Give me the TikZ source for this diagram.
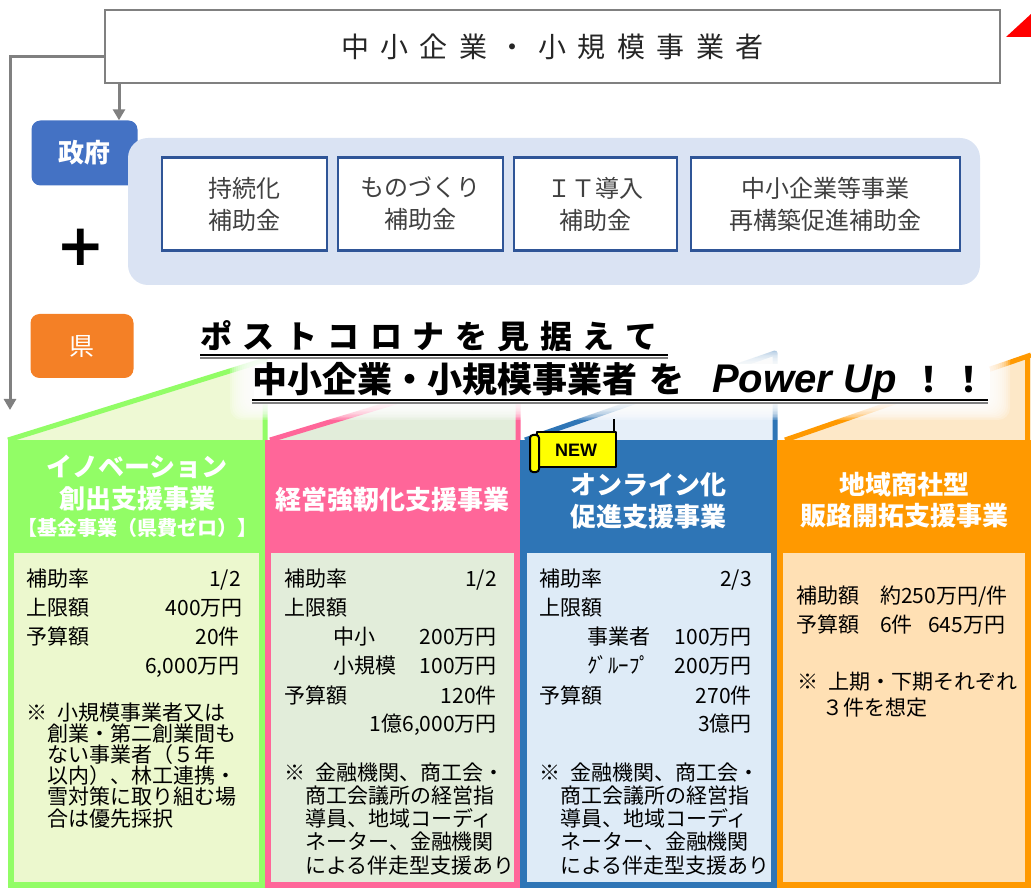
\documentclass[tikz,border=0pt]{standalone}
\usepackage{fontspec}
\setmainfont{Noto Sans CJK JP}
\newfontfamily\latinfont{Liberation Sans}
\newfontfamily\plusfont{DejaVu Sans}
\usetikzlibrary{arrows.meta}

\definecolor{linegray}{RGB}{128,128,128}
\definecolor{darktext}{RGB}{64,64,64}
\definecolor{govblue}{RGB}{68,114,196}
\definecolor{kenorange}{RGB}{244,128,38}
\definecolor{panelblue}{RGB}{218,227,243}
\definecolor{boxblue}{RGB}{47,85,151}
\definecolor{greenhead}{RGB}{146,253,102}
\definecolor{greenbody}{RGB}{236,248,206}
\definecolor{greenwedge}{RGB}{238,249,212}
\definecolor{pinkhead}{RGB}{255,102,153}
\definecolor{pinkbody}{RGB}{226,237,218}
\definecolor{bluehead}{RGB}{46,117,182}
\definecolor{bluebody}{RGB}{222,235,247}
\definecolor{bluewedge}{RGB}{230,239,249}
\definecolor{orangehead}{RGB}{255,153,0}
\definecolor{orangebody}{RGB}{255,224,180}
\definecolor{orangewedge}{RGB}{253,232,200}
\definecolor{newyellow}{RGB}{255,255,0}

% spread the letters of a word
\newcommand\spreadtext[2]{\def\spreadgap{#1}\spreadloop#2\relax}
\def\spreadloop#1{\ifx#1\relax\else#1\hspace{\spreadgap}\expandafter\spreadloop\fi}

\begin{document}
\begin{tikzpicture}[x=1pt, y=-1pt, inner sep=0pt,
    conn/.style={draw=linegray, line width=3pt, -{Triangle[length=11pt,width=12pt]}},
    subsidy/.style={draw=boxblue, line width=2.5pt, fill=white, minimum height=93pt,
      align=center, text=darktext, font=\fontsize{24}{32}\selectfont},
    badge/.style={rounded corners=9pt, text=white, minimum width=106pt, minimum height=65pt},
    headtext/.style={text=white, font=\fontsize{26}{26}\selectfont\bfseries},
    bodyl/.style={anchor=base west, font=\fontsize{21}{21}\selectfont},
    bodyr/.style={anchor=base east, font=\fontsize{21}{21}\selectfont},
    wedgeline/.style={line width=5pt, line join=round},
    uline/.style={line width=2pt}]
\useasboundingbox (0,0) rectangle (1031,890);

% Top box and the flow on the left
\node[draw=linegray, line width=2pt, fill=white, minimum width=895pt, minimum height=73pt,
  text=black!85, font=\fontsize{28}{28}\selectfont] (top) at (552.5,46.5)
  {\spreadtext{11.5pt}{中小企業・小規模事業者}};
\fill[red] (1006,37) -- (1031,37) -- (1031,14) -- cycle;

\node[badge, fill=govblue, font=\fontsize{26}{26}\selectfont\bfseries] (gov) at (84.5,153) {政府};
\node[badge, fill=kenorange, minimum width=103pt, minimum height=64pt,
  font=\fontsize{25}{25}\selectfont] (ken) at (82,346) {県};
\coordinate (leftend) at (10,410);

\draw[conn] ([xshift=15pt]top.south west) -- ([xshift=15pt]top.south west |- gov.north);
\draw[conn] ([yshift=-10.5pt]top.west) -| (leftend);

% Government subsidies
\node[fill=panelblue, rounded corners=20pt, minimum width=852pt, minimum height=147pt] (panel) at (554,211.5) {};
\node[subsidy, minimum width=165pt] (jizoku) at (244.5,204) {持続化\\補助金};
\node[subsidy, minimum width=165pt] (monozukuri) at (420.5,204) {ものづくり\\補助金};
\node[subsidy, minimum width=163pt] (itdonyu) at (595.5,204) {ＩＴ導入\\補助金};
\node[subsidy, minimum width=269pt] (saikochiku) at (825.5,204) {中小企業等事業\\再構築促進補助金};
\node[font=\plusfont\fontsize{58}{58}\selectfont\bfseries] (plus) at (81,247) {+};

% Wedges above the four columns
\fill[greenwedge] (8,440) -- (265,360) -- (265,440) -- cycle;
\draw[greenhead, wedgeline] (8,440) -- (265,360) -- (265,440);
\fill[pinkbody] (270,440) -- (518,365) -- (518,440) -- cycle;
\draw[pinkhead, wedgeline] (270,440) -- (518,365) -- (518,440);
\fill[bluewedge] (525,440) -- (775,353) -- (775,440) -- cycle;
\draw[bluehead, wedgeline] (525,440) -- (775,353) -- (775,440);
\fill[orangewedge] (785,440) -- (1031,355) -- (1031,440) -- cycle;
\draw[orangehead, wedgeline] (785,440) -- (1031,355);
\draw[orangehead, wedgeline] (1027,357) -- (1027,440);

% White glow behind the slogan
\foreach \g in {0,...,11}
  \fill[white, opacity=0.22, rounded corners=12pt] (230+\g*2,346+\g*1.5) rectangle (1010-\g*2,420-\g*1.5);
\fill[white, rounded corners=6pt] (254,364) rectangle (990,402);

% Four columns
\fill[greenhead] (8,440) rectangle (265,888);
\fill[greenbody] (14,553) rectangle (259,882);
\fill[pinkhead] (265,440) rectangle (520,888);
\fill[pinkbody] (271,553) rectangle (514,882);
\fill[bluehead] (520,440) rectangle (777,888);
\fill[bluebody] (527,553) rectangle (771,882);
\fill[orangehead] (777,440) rectangle (1031,888);
\fill[orangebody] (783,553) rectangle (1025,882);

% Slogan
\node[anchor=base west, font=\fontsize{32}{32}\selectfont\bfseries] (slogan1) at (200,349)
  {\spreadtext{10.5pt}{ポストコロナを見据えて}};
\draw[uline, black] (200,355) -- (668,355);
\draw[uline, linegray] (200,358) -- (668,358);
\node[anchor=base west, font=\fontsize{35}{35}\selectfont\bfseries] (slogan2) at (252,393) {中小企業・小規模事業者};
\node[anchor=base west, font=\fontsize{35}{35}\selectfont\bfseries] (slogan3) at (649,393) {を};
\node[anchor=base west, font=\latinfont\fontsize{40}{40}\selectfont\bfseries\itshape] (slogan4) at (712,393) {Power Up};
\node[anchor=base west, font=\fontsize{35}{35}\selectfont\bfseries] (slogan5) at (911,393) {！\hspace{5pt}！};
\draw[uline, black] (252,400) -- (988,400);
\draw[uline, linegray] (252,403) -- (988,403);

% Column heads
\node[headtext] (ghead1) at (137,467) {イノベーション};
\node[headtext] (ghead2) at (137,499) {創出支援事業};
\node[headtext, font=\fontsize{20}{20}\selectfont\bfseries] (ghead3) at (137,528) {【基金事業（県費ゼロ）】};
\node[headtext] (phead) at (392,500) {経営強靭化支援事業};
\node[headtext] (bhead1) at (648,485) {オンライン化};
\node[headtext] (bhead2) at (648,517) {促進支援事業};
\node[headtext] (ohead1) at (904,485) {地域商社型};
\node[headtext] (ohead2) at (904,516) {販路開拓支援事業};

% NEW tag
\draw[line width=2.5pt, fill=newyellow, line join=round] (537,432) rectangle (616,467);
\draw[line width=2.5pt] (614,432) -- (614,419);
\draw[line width=2pt, fill=newyellow, rounded corners=3pt] (530,435) rectangle (539,472);
\node[font=\latinfont\fontsize{18}{18}\selectfont\bfseries] (newtag) at (576,450) {NEW};

% Green column
\node[bodyl] (grate) at (26,586) {補助率};
\node[bodyr] (grateval) at (241,586) {1/2};
\node[bodyl] (glimit) at (26,615) {上限額};
\node[bodyr] (glimitval) at (243,615) {400万円};
\node[bodyl] (gbudget) at (26,644) {予算額};
\node[bodyr] (gbudgetval) at (240,644) {20件};
\node[bodyr] (gbudgetsum) at (240,673) {6,000万円};
\node[bodyl] (gnote0) at (26,720) {※\hspace{10pt}小規模事業者又は};
\foreach \t [count=\i] in {創業・第二創業間も, ない事業者（５年, 以内）、林工連携・, 雪対策に取り組む場, 合は優先採択}
  \node[bodyl] (gnote\i) at (47,720+\i*21.2) {\t};

% Pink column
\node[bodyl] (prate) at (284,586) {補助率};
\node[bodyr] (prateval) at (497,586) {1/2};
\node[bodyl] (plimit) at (284,615) {上限額};
\node[bodyl] (psmall) at (333,644) {中小};
\node[bodyr] (psmallval) at (497,644) {200万円};
\node[bodyl] (ptiny) at (333,673) {小規模};
\node[bodyr] (ptinyval) at (497,673) {100万円};
\node[bodyl] (pbudget) at (284,703) {予算額};
\node[bodyr] (pbudgetval) at (497,703) {120件};
\node[bodyr] (pbudgetsum) at (497,731) {1億6,000万円};
\node[bodyl] (pnote0) at (284,780) {※\hspace{10pt}金融機関、商工会・};
\foreach \t [count=\i] in {商工会議所の経営指, 導員、地域コーディ, ネーター、金融機関, による伴走型支援あり}
  \node[bodyl] (pnote\i) at (305,780+\i*23.3) {\t};

% Blue column
\node[bodyl] (brate) at (539,586) {補助率};
\node[bodyr] (brateval) at (752,586) {2/3};
\node[bodyl] (blimit) at (539,615) {上限額};
\node[bodyl] (bfirm) at (587,644) {事業者};
\node[bodyr] (bfirmval) at (752,644) {100万円};
\node[bodyl] (bgroup) at (587,673) {ｸﾞﾙｰﾌﾟ};
\node[bodyr] (bgroupval) at (752,673) {200万円};
\node[bodyl] (bbudget) at (539,703) {予算額};
\node[bodyr] (bbudgetval) at (752,703) {270件};
\node[bodyr] (bbudgetsum) at (752,731) {3億円};
\node[bodyl] (bnote0) at (539,780) {※\hspace{10pt}金融機関、商工会・};
\foreach \t [count=\i] in {商工会議所の経営指, 導員、地域コーディ, ネーター、金融機関, による伴走型支援あり}
  \node[bodyl] (bnote\i) at (560,780+\i*23.3) {\t};

% Orange column
\node[bodyl] (oamount) at (796,603) {補助額};
\node[bodyl] (oamountval) at (880,603) {約250万円/件};
\node[bodyl] (obudget) at (796,632) {予算額};
\node[bodyl] (obudgetnum) at (880,632) {6件};
\node[bodyl] (obudgetsum) at (928,632) {645万円};
\node[bodyl] (onote0) at (797,689) {※\hspace{10pt}上期・下期それぞれ};
\node[bodyl] (onote1) at (822,715) {３件を想定};

\end{tikzpicture}
\end{document}
